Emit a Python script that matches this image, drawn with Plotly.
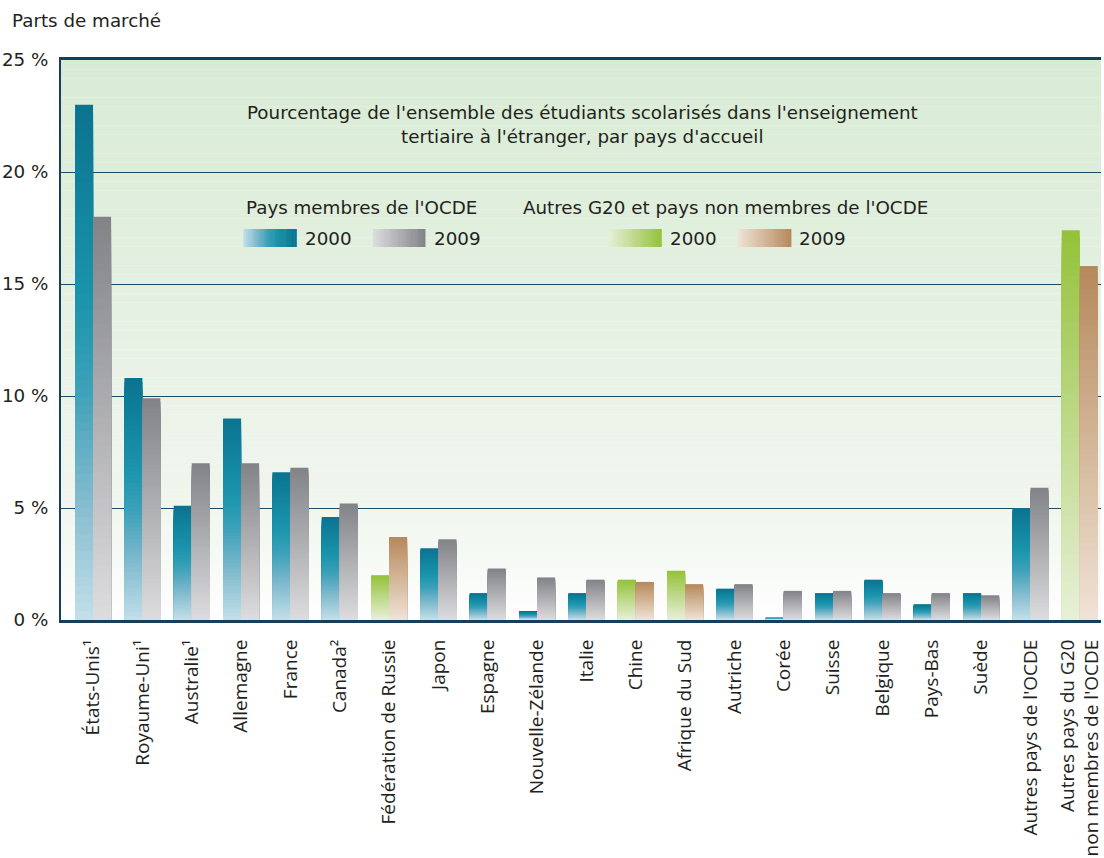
import plotly.graph_objects as go

# ---------------- data ----------------
categories = ["États-Unis¹", "Royaume-Uni¹", "Australie¹", "Allemagne", "France", "Canada²",
              "Fédération de Russie", "Japon", "Espagne", "Nouvelle-Zélande", "Italie", "Chine",
              "Afrique du Sud", "Autriche", "Corée", "Suisse", "Belgique", "Pays-Bas", "Suède",
              "Autres pays de l'OCDE", "Autres pays du G20<br>non membres de l'OCDE"]
oecd_member = [True, True, True, True, True, True, False, True, True, True, True, False,
               False, True, True, True, True, True, True, True, False]
share_2000 = [23.0, 10.8, 5.1, 9.0, 6.6, 4.6, 2.0, 3.2, 1.2, 0.4, 1.2, 1.8, 2.2, 1.4, 0.1,
              1.2, 1.8, 0.7, 1.2, 5.0, 17.4]
share_2009 = [18.0, 9.9, 7.0, 7.0, 6.8, 5.2, 3.7, 3.6, 2.3, 1.9, 1.8, 1.7, 1.6, 1.6, 1.3,
              1.3, 1.2, 1.2, 1.1, 5.9, 15.8]
y_ticks = [0, 5, 10, 15, 20, 25]
y_tick_labels = ["0 %", "5 %", "10 %", "15 %", "20 %", "25 %"]

# ---------------- styles ----------------
TEAL = [(0, (194, 224, 234)), (0.22, (135, 189, 208)), (0.46, (58, 160, 184)),
        (0.62, (27, 148, 173)), (1, (10, 115, 144))]
GRAY = [(0, (221, 221, 223)), (1, (130, 131, 135))]
GREEN = [(0, (232, 240, 216)), (1, (148, 194, 58))]
TAN = [(0, (240, 227, 214)), (1, (182, 137, 92))]
BG = [(0, (216, 235, 212)), (0.4, (228, 240, 225)), (0.6, (235, 243, 233)),
      (0.8, (240, 246, 238)), (0.9, (247, 250, 246)), (1, (254, 254, 254))]
NAVY = "#173f5c"
GRID = "#1d4a66"
TXT = "#231f20"
FONT_T = "DejaVu Sans"
FONT_X = "Open Sans"
FS = 18.3


def interp(stops, t):
    for (t0, c0), (t1, c1) in zip(stops[:-1], stops[1:]):
        if t <= t1:
            f = 0 if t1 == t0 else (t - t0) / (t1 - t0)
            c = [round(a + (b - a) * f) for a, b in zip(c0, c1)]
            return "rgb(%d,%d,%d)" % tuple(c)
    return "rgb(%d,%d,%d)" % stops[-1][1]


fig = go.Figure()

# vertical gradient: full bar first (darkest), then successively shorter, lighter bars on top
N = 60
for year, vals, st_o, st_n in (("2000", share_2000, TEAL, GREEN),
                              ("2009", share_2009, GRAY, TAN)):
    for k in range(N - 1, -1, -1):
        frac = (k + 0.5) / N
        cols = [interp(st_o if m else st_n, frac) for m in oecd_member]
        fig.add_bar(x=categories, y=[v * (k + 1) / N for v in vals],
                    offsetgroup=year, marker=dict(color=cols, line=dict(width=0)),
                    hoverinfo="skip", showlegend=False)

# ---------------- layout ----------------
W, H = 1104, 858
ML, MR, MT, MB = 61, 0, 60, 238
PW, PH = W - ML - MR, H - MT - MB


def px(x):
    return (x - ML) / PW


def py(y):
    return (H - MB - y) / PH


shapes = []
M = 60
for i in range(M):
    shapes.append(dict(type="rect", xref="x domain", yref="y domain", x0=0, x1=1,
                       y0=i / M, y1=(i + 1) / M, layer="below", line=dict(width=0),
                       fillcolor=interp(BG, 1 - (i + 0.5) / M)))

annotations = []


def text(s, x, y, size=FS, anchor="left", font=FONT_T):
    annotations.append(dict(text=s, x=px(x), y=py(y), xref="paper", yref="paper",
                            xanchor=anchor, yanchor="middle", showarrow=False,
                            font=dict(family=font, size=size, color=TXT)))


def swatch(x0, x1, y0, y1, stops, n=24):
    for j in range(n):
        a = x0 + (x1 - x0) * j / n
        b = x0 + (x1 - x0) * (j + 1) / n
        shapes.append(dict(type="rect", xref="paper", yref="paper", x0=px(a), x1=px(b) + 0.0005,
                           y0=py(y1), y1=py(y0), line=dict(width=0),
                           fillcolor=interp(stops, (j + 0.5) / n)))


text("Parts de marché", 10, 20)
text("Pourcentage de l'ensemble des étudiants scolarisés dans l'enseignement", 584, 112, anchor="center")
text("tertiaire à l'étranger, par pays d'accueil", 584, 137, anchor="center")
text("Pays membres de l'OCDE", 245, 208)
text("Autres G20 et pays non membres de l'OCDE", 522, 208)
swatch(244, 297, 229, 247, TEAL)
swatch(374, 426, 229, 247, GRAY)
swatch(610, 663, 229, 247, GREEN)
swatch(740, 793, 229, 247, TAN)
text("2000", 304, 238)
text("2009", 433, 238)
text("2000", 670, 238)
text("2009", 799, 238)

fig.update_layout(
    width=W, height=H, margin=dict(l=ML, r=MR, t=MT, b=MB, pad=0),
    paper_bgcolor="white", plot_bgcolor="white",
    barmode="group", bargap=0.27, bargroupgap=0,
    shapes=shapes, annotations=annotations, showlegend=False,
    xaxis=dict(type="category", range=[-0.65, 20.43], tickangle=-90,
               tickfont=dict(family=FONT_X, size=19, color=TXT),
               showline=True, linecolor=NAVY, linewidth=3, mirror=True,
               showgrid=False, ticks="", ticklabelstandoff=9, fixedrange=True),
    yaxis=dict(range=[0, 25], tickmode="array", tickvals=y_ticks, ticktext=y_tick_labels,
               tickfont=dict(family=FONT_T, size=FS, color=TXT),
               showline=True, linecolor=NAVY, linewidth=2, zeroline=False,
               showgrid=True, gridcolor=GRID, gridwidth=1.3, ticks="",
               ticklabelstandoff=7, fixedrange=True),
)

fig.write_html("out.html")
